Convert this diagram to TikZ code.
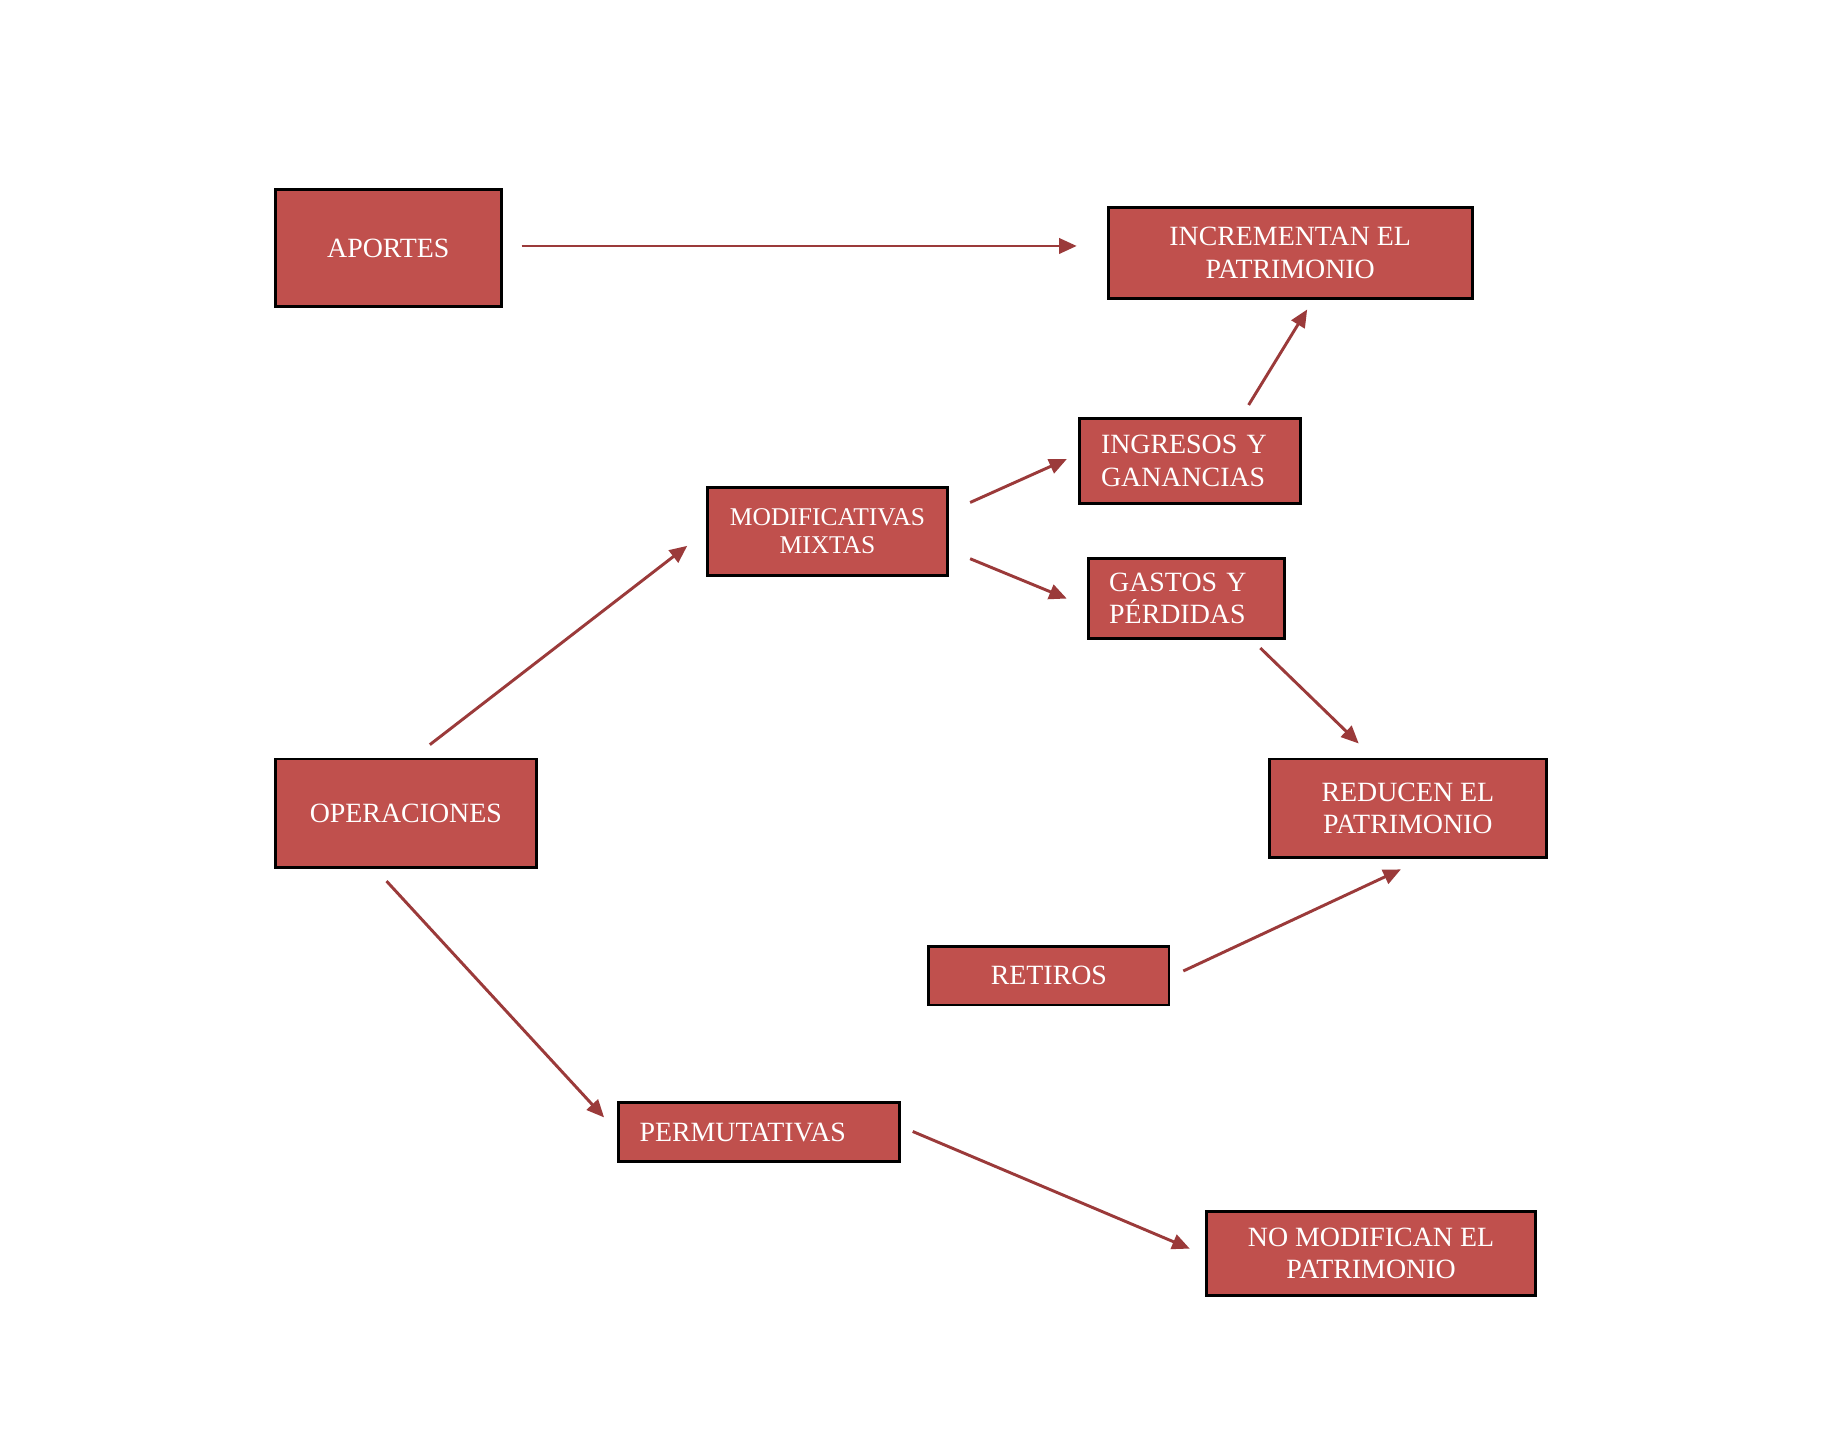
\documentclass[tikz,border=0pt]{standalone}
\usepackage{fontspec}
\setmainfont{Liberation Serif}
\usetikzlibrary{arrows.meta,calc}
\definecolor{boxred}{HTML}{C0504D}
\definecolor{arrowred}{HTML}{9B3A3A}
\tikzset{
  box/.style={draw=black, line width=2.5pt, fill=boxred, text=white, inner sep=0pt, align=center,
    font=\fontsize{23.8}{27.5}\selectfont},
  lbox/.style={box, align=left, inner xsep=18pt},
  conn/.style={draw=arrowred, line width=2.5pt, -{Triangle[length=15pt,width=13pt]}}
}
\begin{document}
\begin{tikzpicture}[x=1pt,y=-1pt]
\useasboundingbox (0,0) rectangle (1567.5,1239.6);
\fill[white] (0,0) rectangle (1567.5,1239.6);
\node[box, minimum width=193pt, minimum height=100pt] (ap) at (331.5,212) {APORTES};
\node[box, minimum width=311pt, minimum height=78pt] (inc) at (1101.5,216) {INCREMENTAN EL\\PATRIMONIO};
\node[lbox, text width=152pt, minimum height=73pt] (ing) at (1016,393.5) {INGRESOS Y\\GANANCIAS};
\node[box, minimum width=205pt, minimum height=75pt, font=\fontsize{21.8}{24}\selectfont] (mod) at (706.5,453.5) {MODIFICATIVAS\\MIXTAS};
\node[lbox, text width=132pt, minimum height=68pt] (gas) at (1013,511) {GASTOS Y\\PÉRDIDAS};
\node[box, minimum width=223pt, minimum height=93pt] (ope) at (346.5,694.5) {OPERACIONES};
\node[box, minimum width=236pt, minimum height=84pt] (red) at (1202,690) {REDUCEN EL\\PATRIMONIO};
\node[box, minimum width=205pt, minimum height=50pt] (ret) at (895.5,833) {RETIROS};
\node[lbox, text width=204pt, minimum height=51pt] (per) at (648,966.5) {PERMUTATIVAS};
\node[box, minimum width=281pt, minimum height=72pt] (nom) at (1170.5,1070) {NO MODIFICAN EL\\PATRIMONIO};

\draw[conn] ($(ap.east)+(16,-2)$) -- ($(inc.west)+(-25.5,-6)$);
\draw[conn] ($(ing.north)+(50,-10)$) -- ($(inc.south)+(14.5,8)$);
\draw[conn] ($(mod.east)+(18,-24.5)$) -- ($(ing.west)+(-10,-1.5)$);
\draw[conn] ($(mod.east)+(18,23.5)$) -- ($(gas.west)+(-17,0)$);
\draw[conn] ($(ope.north)+(20.5,-11)$) -- ($(mod.west)+(-16,12.5)$);
\draw[conn] ($(gas.south)+(63,7)$) -- ($(red.north)+(-42,-12)$);
\draw[conn] ($(ret.east)+(11,-4)$) -- ($(red.south)+(-6,9)$);
\draw[conn] ($(ope.south)+(-16.5,10)$) -- ($(per.west)+(-11,-12.5)$);
\draw[conn] ($(per.east)+(10,-0.5)$) -- ($(nom.west)+(-13,-4)$);
\end{tikzpicture}
\end{document}
